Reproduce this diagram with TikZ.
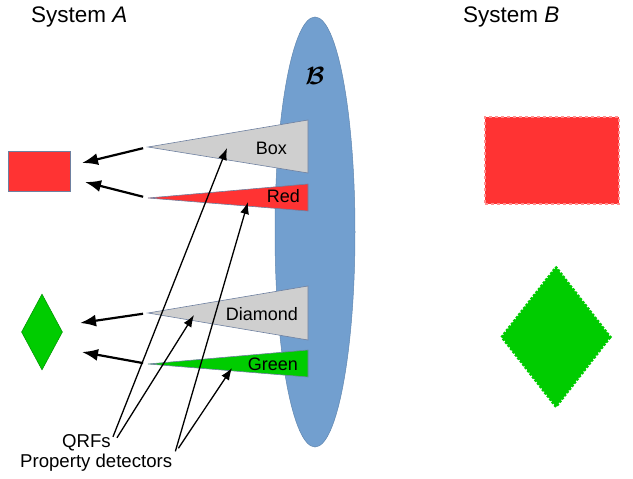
\documentclass[tikz,border=0pt]{standalone}
\usepackage{amsmath,amssymb}
\usepackage{bm}
\usepackage{fontspec}
\setmainfont{Liberation Sans}
\usepackage{tikz}
\usetikzlibrary{arrows.meta,positioning,calc,shapes.geometric}

\definecolor{bubble}{RGB}{114,159,207}
\definecolor{tgray}{RGB}{207,207,207}
\definecolor{tred}{RGB}{255,51,51}
\definecolor{tgreen}{RGB}{0,204,0}
\definecolor{tline}{RGB}{110,128,160}

\begin{document}
\begin{tikzpicture}[x=1pt,y=-1pt,
    lbl/.style={font=\fontsize{18}{21}\selectfont, inner sep=0pt},
    note/.style={font=\fontsize{18.6}{22}\selectfont, inner sep=0pt},
    big/.style={font=\fontsize{22.5}{26}\selectfont, inner sep=0pt},
    pick/.style={-{Latex[length=16pt,width=12pt]}, line width=2.2pt},
    qrf/.style={-{Latex[length=12pt,width=9pt]}, line width=1.3pt}]
    \useasboundingbox (0,0) rectangle (633,479);

    % Titles
    \node[big, anchor=base west] (sysA) at (31,23) {System \textit{A}};
    \node[big, anchor=base west] (sysB) at (463,23) {System \textit{B}};

    % The boundary B
    \node[ellipse, fill=bubble, draw=bubble!85!black, line width=0.5pt,
          minimum width=80pt, minimum height=430pt, inner sep=0pt] (bub) at (315,232) {};
    \node[font=\fontsize{26}{28}\selectfont] (bubB) at (315,76) {$\bm{\mathcal{B}}$};

    % Detector triangles
    \foreach \nm/\yt/\ya/\yb/\col in {box/147/120/173/tgray, red/198/184/211/tred,
                                      dia/313/286/340/tgray, grn/364/350/377/tgreen} {
        \filldraw[fill=\col, draw=tline, line width=0.6pt]
            (148,\yt) coordinate (\nm tip) -- (308,\ya) -- (308,\yb) -- cycle;
    }
    \node[lbl, anchor=base east] (boxlbl) at (287,154) {Box};
    \node[lbl, anchor=base east] (redlbl) at (300,202) {Red};
    \node[lbl, anchor=base east] (dialbl) at (298,320) {Diamond};
    \node[lbl, anchor=base east] (grnlbl) at (298,370) {Green};

    % System A
    \node[fill=tred, draw=tline, line width=0.6pt, minimum width=62pt,
          minimum height=40pt, inner sep=0pt] (redA) at (39,171) {};
    \node[diamond, fill=tgreen, draw=tgreen!70!black, line width=0.5pt,
          minimum width=41pt, minimum height=76pt, inner sep=0pt] (dmdA) at (42,332) {};

    % System B
    \node[fill=tred, draw=tred!55!white, dashed, line width=2pt, minimum width=134pt,
          minimum height=87pt, inner sep=0pt] (redB) at (552,160.5) {};
    \node[diamond, fill=tgreen, draw=tgreen, dash pattern=on 0pt off 4pt, line cap=round,
          line width=3.5pt, minimum width=110pt, minimum height=141pt, inner sep=0pt] (dmdB) at (556,337) {};

    % Outputs towards A
    \coordinate (boxIn) at (82,163);
    \coordinate (redIn) at (85,182);
    \coordinate (diaIn) at (80,323);
    \coordinate (grnIn) at (82,352);
    \foreach \nm in {box, red, dia, grn} {
        \draw[pick, shorten <=5pt] (\nm tip) -- (\nm In);
    }

    % Labels below
    \node[note, anchor=base west] (qrfs) at (62,447) {QRFs};
    \node[note, anchor=base west] (det) at (20,467) {Property detectors};

    \coordinate (boxPt) at (227,148);
    \coordinate (diaPt) at (194,315);
    \coordinate (redPt) at (248,202);
    \coordinate (grnPt) at (232,368);
    \draw[qrf] ($(qrfs.north east)+(2,3)$) -- (boxPt);
    \draw[qrf] ($(qrfs.north east)+(6,4)$) -- (diaPt);
    \draw[qrf] ($(det.north east)+(3,-2)$) -- (redPt);
    \draw[qrf] ($(det.north east)+(6,-5)$) -- (grnPt);
\end{tikzpicture}
\end{document}
